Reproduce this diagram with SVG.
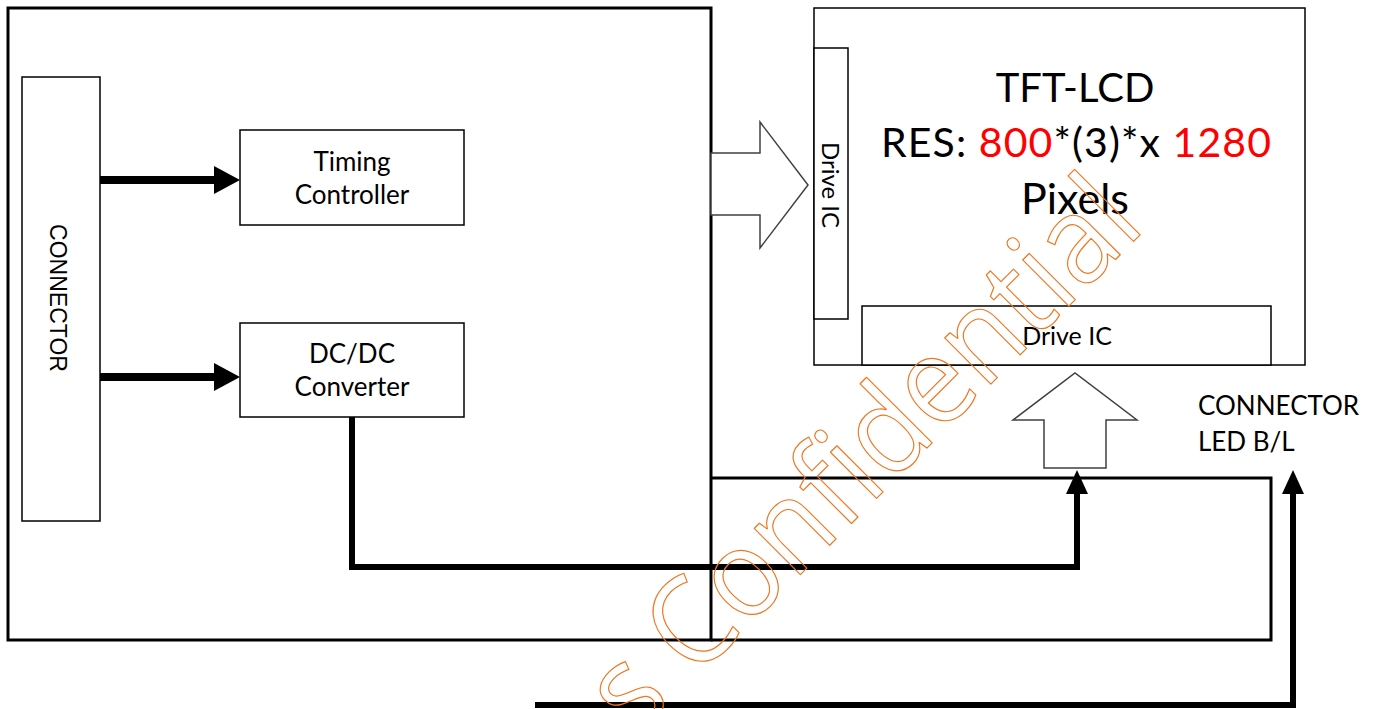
<svg xmlns="http://www.w3.org/2000/svg" width="1375" height="709" viewBox="0 0 1375 709">
<defs>
<style>
.box{fill:#fff;stroke:#000;stroke-width:1.5}
.big{fill:none;stroke:#000;stroke-width:3}
.blk{fill:#fff;stroke:#404040;stroke-width:1.5}
.t{font-family:Lato,"Open Sans",sans-serif;fill:#000}
.red{fill:#ff0000}
.wire{fill:none;stroke:#000;stroke-width:6}
.thin{fill:none;stroke:#000;stroke-width:3}
.wm{font-family:"Open Sans",sans-serif;font-size:122px;fill:none;stroke:#ee7722;stroke-width:1.2;stroke-linejoin:round}
</style>
</defs>
<g id="module">
<rect class="big" x="8" y="8" width="703" height="632"/>
</g>
<g id="connector">
<rect class="box" x="22" y="77" width="78" height="444"/>
<text style="font-family:'Liberation Sans',Arial,sans-serif" fill="#000" font-size="23" text-anchor="middle" transform="translate(50,298) rotate(90)">CONNECTOR</text>
</g>
<g id="timing">
<rect class="box" x="240" y="130" width="224" height="95"/>
<text class="t" font-size="26" text-anchor="middle" x="352" y="171">Timing</text>
<text class="t" font-size="26" text-anchor="middle" x="352" y="204">Controller</text>
</g>
<g id="dcdc">
<rect class="box" x="240" y="323" width="224" height="94"/>
<text class="t" font-size="26" text-anchor="middle" x="352" y="363">DC/DC</text>
<text class="t" font-size="26" text-anchor="middle" x="352" y="396">Converter</text>
</g>
<g id="tftlcd">
<rect class="box" x="814" y="8" width="491" height="357"/>
<text class="t" font-size="40" text-anchor="middle" x="1075" y="102">TFT-LCD</text>
<text class="t" font-size="41" text-anchor="middle" x="1076" y="157" textLength="390" lengthAdjust="spacing">RES: <tspan class="red">800</tspan>*(3)*x <tspan class="red">1280</tspan></text>
<text class="t" font-size="43" text-anchor="middle" x="1075" y="214">Pixels</text>
</g>
<g id="driveic-v">
<rect class="box" x="814" y="48" width="34" height="271"/>
<text class="t" font-size="24" text-anchor="middle" transform="translate(822,185) rotate(90)">Drive IC</text>
</g>
<g id="driveic-h">
<rect class="box" x="862" y="306" width="409" height="59"/>
<text class="t" font-size="25" text-anchor="middle" x="1067" y="345">Drive IC</text>
</g>
<g id="bl-label">
<text class="t" font-size="26" x="1198" y="415">CONNECTOR</text>
<text class="t" font-size="26" x="1198" y="451">LED B/L</text>
</g>
<g id="connectors">
<polygon class="blk" points="711,153 760,153 760,122 808,185 760,248 760,215 711,215"/>
<polygon class="blk" points="1044,468 1044,420 1013,420 1075,373 1137,420 1106,420 1106,468"/>
<line x1="100" y1="180" x2="216" y2="180" stroke="#000" stroke-width="8"/>
<polygon points="214,166 240,180 214,194" fill="#000"/>
<line x1="100" y1="377" x2="216" y2="377" stroke="#000" stroke-width="8"/>
<polygon points="214,363 240,377 214,391" fill="#000"/>
<polyline class="wire" points="352,417 352,567 1077,567 1077,490"/>
<polygon points="1066,494 1077,470 1088,494" fill="#000"/>
<polyline class="thin" points="711,478 1271,478 1271,640 711,640"/>
<polyline class="wire" points="535,705 1293,705 1293,490"/>
<polygon points="1282,494 1293,470 1304,494" fill="#000"/>
</g>
<g id="watermark">
<text class="wm" text-anchor="end" transform="translate(1147,228) rotate(-45) scale(0.93,1)">s Confidential</text>
</g>
</svg>
